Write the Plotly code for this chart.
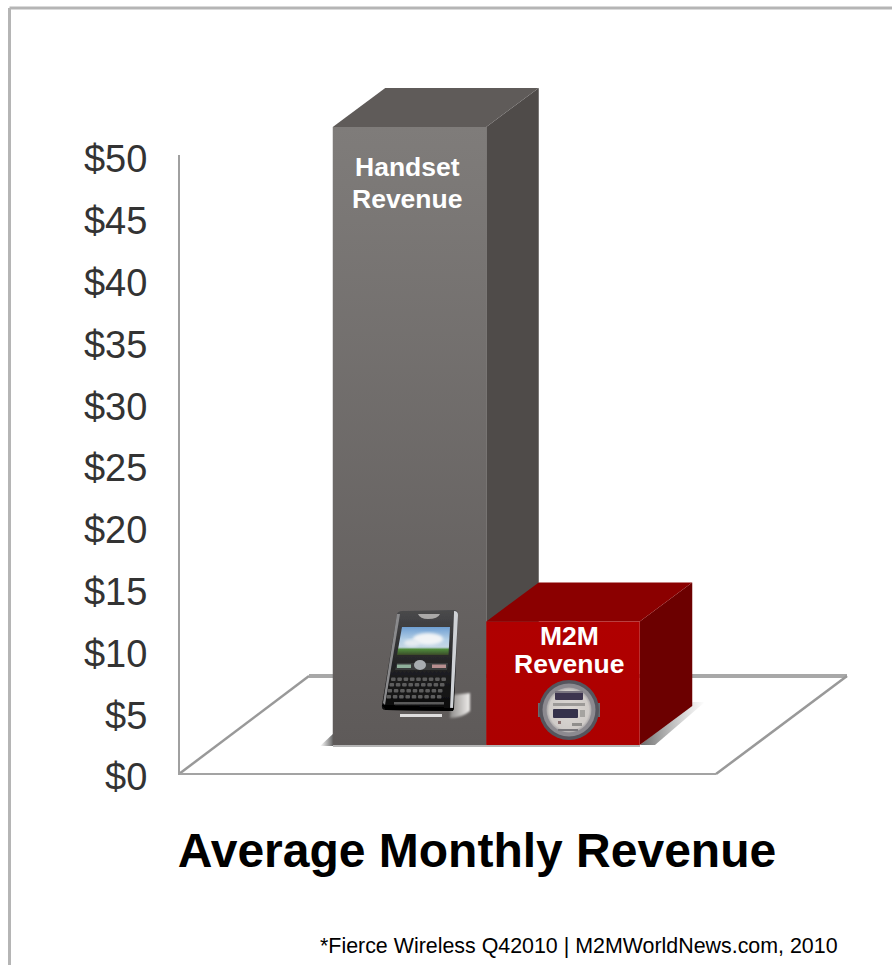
import base64
import plotly.graph_objects as go

# ---------- data ----------
categories = ["Handset Revenue", "M2M Revenue"]
revenue = [50, 10]
tick_values = [0, 5, 10, 15, 20, 25, 30, 35, 40, 45, 50]
tick_labels = ["$0", "$5", "$10", "$15", "$20", "$25", "$30", "$35", "$40", "$45", "$50"]
chart_title = "Average Monthly Revenue"
source_note = "*Fierce Wireless Q42010 | M2MWorldNews.com, 2010"

# ---------- layout geometry (pixels on the 892x965 page) ----------
W, H = 892, 965
PX_PER_DOLLAR = 12.36
Y0_PX = 777.0            # pixel row of $0
PX_PER_CAT = 153.5
X0_PX = 409.5            # pixel column of the first category's centre
x_range = [-X0_PX / PX_PER_CAT, (W - X0_PX) / PX_PER_CAT]
y_range = [-(H - Y0_PX) / PX_PER_DOLLAR, Y0_PX / PX_PER_DOLLAR]


def cx(px):
    return (px - X0_PX) / PX_PER_CAT


def vy(px):
    return (Y0_PX - px) / PX_PER_DOLLAR


# 3-D projection offsets, in axis units
BASE = vy(745)           # front of the bars stands forward of the axis zero
DX = 52.5 / PX_PER_CAT
DY = 39.0 / PX_PER_DOLLAR
HALF = 0.5

FACES = [
    dict(side="#4f4b49", top="#5f5b59", front=["#7f7c7a", "#5e5a59"]),
    dict(side="#6c0000", top="#8b0000", front=["#b00000", "#ac0000"]),
]

fig = go.Figure()


def poly(xs, ys, color=None, gradient=None, gtype="vertical"):
    kw = dict(x=xs + xs[:1], y=ys + ys[:1], mode="lines", fill="toself",
              line=dict(width=0), hoverinfo="skip", showlegend=False)
    if gradient:
        kw["fillgradient"] = dict(type=gtype, colorscale=gradient)
    else:
        kw["fillcolor"] = color
    fig.add_trace(go.Scatter(**kw))


def line(xs, ys, color, width):
    fig.add_trace(go.Scatter(x=xs, y=ys, mode="lines", line=dict(color=color, width=width),
                             hoverinfo="skip", showlegend=False))


# floor outline and value axis
FL, FR = cx(179), cx(716)
BL, BR = cx(309), cx(847)
FB = vy(676)
FF = vy(774)
line([BL, BR], [FB, FB], "#a8a8a8", 4)
line([FL, BL], [FF, FB], "#999999", 2.5)
line([FR, BR], [FF, FB], "#999999", 2.5)
line([FL, FR], [FF, FF], "#a3a3a3", 2)
line([FL, FL], [vy(775), vy(155)], "#a0a0a0", 2)

# contact shadows on the floor
poly([cx(320), cx(334), cx(334)], [vy(746), vy(733), vy(746)],
     gradient=[[0, "rgba(90,90,90,0)"], [1, "rgba(70,70,70,0.9)"]], gtype="horizontal")
poly([cx(640), cx(693), cx(705), cx(655)], [vy(745), vy(702), vy(702), vy(745)],
     gradient=[[0, "rgba(70,70,70,0.8)"], [1, "rgba(120,120,120,0)"]], gtype="horizontal")
line([cx(333), cx(640)], [vy(746), vy(746)], "#b5b5b5", 2)

# bars, drawn from the revenue values
for i, (value, face) in enumerate(zip(revenue, FACES)):
    l, r = i - HALF, i + HALF
    top = BASE + value
    poly([r, r + DX, r + DX, r], [BASE, BASE + DY, top + DY, top], color=face["side"])
    poly([l, l + DX, r + DX, r], [top, top + DY, top + DY, top], color=face["top"])
    poly([l, r, r, l], [BASE, BASE, top, top],
         gradient=[[0, face["front"][1]], [1, face["front"][0]]])

# ---------- picture icons ----------
keys = ""
for row, (y, x0, n) in enumerate([(72.5, 21, 9), (78, 19.5, 9), (84, 17.5, 9), (90, 16.5, 9)]):
    for k in range(n):
        keys += f'<rect x="{x0 + k * 6.3:.1f}" y="{y}" width="4.6" height="3.4" rx="1" fill="#5d5d5d"/>'
phone_svg = f'''<svg xmlns="http://www.w3.org/2000/svg" width="110" height="120" viewBox="0 0 110 120">
<defs>
<filter id="b"><feGaussianBlur stdDeviation="0.6"/></filter>
<filter id="s"><feGaussianBlur stdDeviation="1.2"/></filter>
<filter id="c"><feGaussianBlur stdDeviation="1.4"/></filter>
<linearGradient id="sky" x1="0" y1="0" x2="0" y2="1"><stop offset="0" stop-color="#6f9fd2"/><stop offset="0.45" stop-color="#b4cfe6"/><stop offset="0.72" stop-color="#c4d6e4"/><stop offset="0.8" stop-color="#4f8a3a"/><stop offset="1" stop-color="#3a4a2a"/></linearGradient>
<linearGradient id="body" x1="0" y1="0" x2="0" y2="1"><stop offset="0" stop-color="#4a4a4c"/><stop offset="0.5" stop-color="#262628"/><stop offset="1" stop-color="#0a0a0a"/></linearGradient>
<linearGradient id="sh" x1="0" y1="0" x2="1" y2="0"><stop offset="0" stop-color="#8f8d8b"/><stop offset="1" stop-color="#efedeb"/></linearGradient>
</defs>
<path d="M82 90 L100 88 L100 106 Q92 113 80 113 Z" fill="url(#sh)" filter="url(#s)"/>
<rect x="30" y="109" width="42" height="3" fill="#ffffff" opacity="0.8" filter="url(#b)"/>
<g filter="url(#b)">
<path d="M27 9 Q28 6 32 6 L84 5 Q88 5 88 9 L84 103 Q84 106 80 106 L16 105 Q11 105 12 100 Z" fill="url(#body)"/>
<path d="M84 6 Q88 6 88 10 L83 104 L80 105 L84 8 Z" fill="#cfd2d6"/>
<path d="M27 9 L13 98 L15 100 L30 9 Z" fill="#8a8a8c"/>
<path d="M48 9 L70 9 Q68 14 58 14 Q50 14 48 9 Z" fill="#aaa9a8"/>
<path d="M32 22 L80 22 L78.5 50 L27 50 Z" fill="url(#sky)"/>
<ellipse cx="58" cy="34" rx="15" ry="6" fill="#f2f4f6" filter="url(#c)"/>
<ellipse cx="42" cy="38" rx="8" ry="3.5" fill="#e6ecf2" filter="url(#c)"/>
<path d="M27 58 L78 58 L77 65 L25 65 Z" fill="#3a3c3c"/>
<rect x="27" y="59.5" width="14" height="3.5" fill="#8fb09a"/>
<rect x="62" y="59.5" width="14" height="3.5" fill="#b78f8f"/>
<ellipse cx="50" cy="60" rx="6" ry="5" fill="#a8adb0"/>
{keys}
<rect x="24" y="97" width="50" height="2.5" fill="#5a5a5a"/>
<path d="M12 100 L84 103 L83 106 L16 105 Z" fill="#000000"/>
</g></svg>'''
meter_svg = '''<svg xmlns="http://www.w3.org/2000/svg" width="80" height="70" viewBox="0 0 80 70">
<defs><filter id="b"><feGaussianBlur stdDeviation="0.5"/></filter>
<radialGradient id="f" cx="0.5" cy="0.5" r="0.55"><stop offset="0" stop-color="#dcd8d4"/><stop offset="0.8" stop-color="#cfcbc8"/><stop offset="1" stop-color="#8c8a90"/></radialGradient></defs>
<g filter="url(#b)">
<rect x="13" y="33" width="4" height="14" fill="#6a6a70"/><rect x="72" y="33" width="3" height="14" fill="#6a6a70"/>
<circle cx="44" cy="40" r="30" fill="#55555d"/>
<circle cx="44" cy="40" r="26.5" fill="#8c8a90"/>
<circle cx="44" cy="40" r="22.5" fill="url(#f)"/>
<rect x="30" y="21" width="28" height="9" rx="1" fill="#3c3650"/>
<rect x="30" y="21" width="28" height="2" fill="#7a7580"/>
<rect x="28" y="33" width="32" height="3" fill="#9c9a98"/>
<rect x="28" y="39" width="25" height="9" rx="1" fill="#35304c"/>
<rect x="55" y="40" width="5" height="7" fill="#a5a3a0"/>
<rect x="33" y="51" width="3" height="3" fill="#8a7070"/>
<rect x="47" y="53" width="10" height="3" fill="#908e8c"/>
<rect x="33" y="59" width="20" height="2" fill="#77757a"/>
</g></svg>'''


def data_uri(svg):
    return "data:image/svg+xml;base64," + base64.b64encode(svg.encode()).decode()


images = [
    dict(source=data_uri(phone_svg), xref="paper", yref="paper", x=370 / W, y=1 - 605 / H,
         sizex=110 / W, sizey=120 / H, xanchor="left", yanchor="top", sizing="stretch", layer="above"),
    dict(source=data_uri(meter_svg), xref="paper", yref="paper", x=525 / W, y=1 - 670 / H,
         sizex=80 / W, sizey=70 / H, xanchor="left", yanchor="top", sizing="stretch", layer="above"),
]

# bar labels, placed relative to each bar's top
label_font = dict(family="Liberation Sans", size=26.5, color="white")
annotations = [
    dict(x=cx(407), y=BASE + revenue[0] - 40 / PX_PER_DOLLAR, xref="x", yref="y",
         text="<b>Handset</b>", showarrow=False, font=label_font),
    dict(x=cx(407), y=BASE + revenue[0] - 72 / PX_PER_DOLLAR, xref="x", yref="y",
         text="<b>Revenue</b>", showarrow=False, font=label_font),
    dict(x=cx(569), y=BASE + revenue[1] - 15 / PX_PER_DOLLAR, xref="x", yref="y",
         text="<b>M2M</b>", showarrow=False, font=label_font),
    dict(x=cx(569), y=BASE + revenue[1] - 43 / PX_PER_DOLLAR, xref="x", yref="y",
         text="<b>Revenue</b>", showarrow=False, font=label_font),
    dict(x=840 / W, y=1 - 946 / H, xref="paper", yref="paper", xanchor="right", yanchor="middle",
         text=source_note, showarrow=False,
         font=dict(family="Liberation Sans", size=21.4, color="#000000")),
]

# outer frame: top and left edges only
frame = dict(type="line", xref="paper", yref="paper", line=dict(color="#b5b5b5", width=3))
shapes = [
    dict(frame, x0=9.5 / W, x1=1, y0=1 - 8 / H, y1=1 - 8 / H),
    dict(frame, x0=9.5 / W, x1=9.5 / W, y0=1 - 8 / H, y1=0),
]

fig.update_layout(
    width=W, height=H, autosize=False,
    margin=dict(l=0, r=0, t=0, b=0),
    paper_bgcolor="white", plot_bgcolor="white",
    showlegend=False,
    title=dict(text=f"<b>{chart_title}</b>", x=477 / W, y=1 - 850 / H, xanchor="center", yanchor="middle",
               font=dict(family="Liberation Sans", size=48, color="#000000")),
    xaxis=dict(range=x_range, visible=False, fixedrange=True),
    yaxis=dict(range=y_range, anchor="free", position=179 / W, side="left",
               tickmode="array", tickvals=tick_values, ticktext=tick_labels,
               tickfont=dict(family="Liberation Sans", size=38, color="#333333"),
               ticks="outside", ticklen=24, tickcolor="rgba(0,0,0,0)", tickwidth=1,
               showgrid=False, zeroline=False, showline=False, fixedrange=True),
    images=images, annotations=annotations, shapes=shapes,
)

fig.write_html("out.html", config=dict(displayModeBar=False),
               post_script="document.body.style.margin='0';document.documentElement.style.overflow='hidden';")
